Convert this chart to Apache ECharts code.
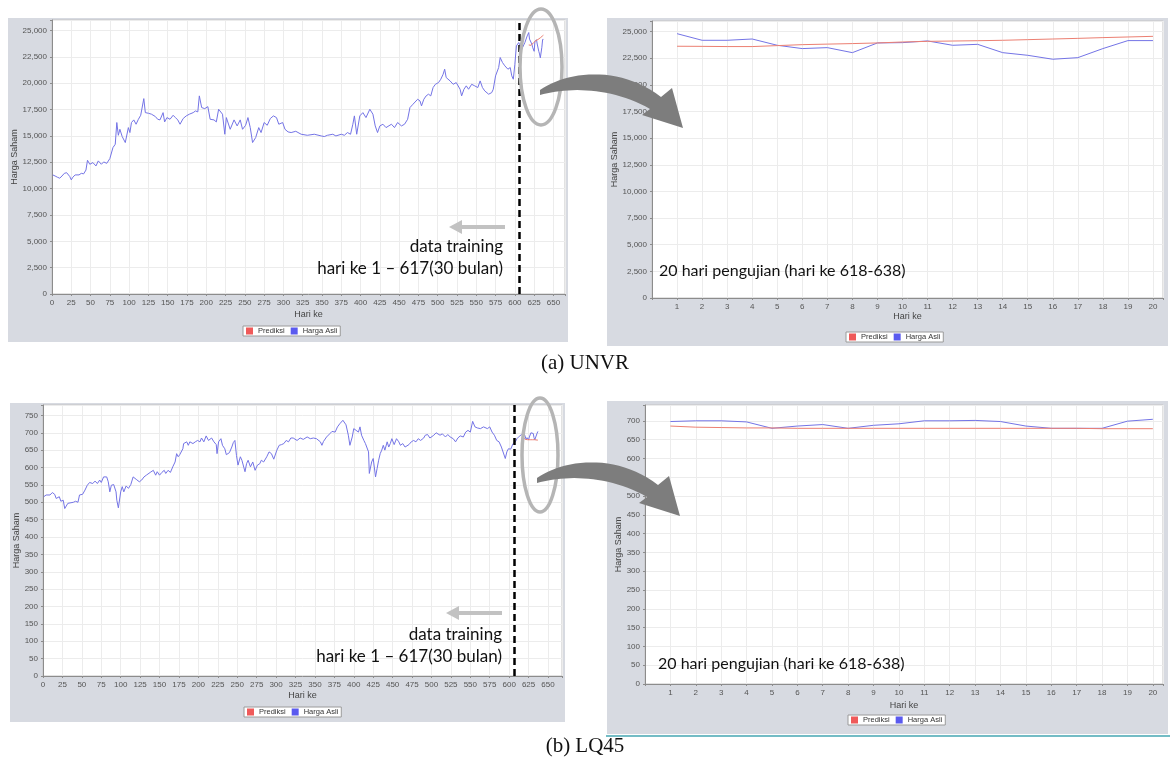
<!DOCTYPE html>
<html><head><meta charset="utf-8">
<script src="https://cdn.jsdelivr.net/npm/echarts@6/dist/echarts.min.js"></script>
<style>html,body{margin:0;padding:0;background:#fff}#c{width:1170px;height:760px}</style>
</head><body><div id="c"></div>
<script>
// ---------------- DATA ----------------
// UNVR training period: [day, price]
const unvrTraining = [
[1,11300],[4,11200],[7,11080],[10,10990],[13,11200],[16,11450],[19,11510],[21,11380],[23,11150],[25,10830],
[27,11080],[30,11300],[32,11390],[35,11300],[38,11450],[41,11400],[44,11760],[46,12690],[49,12310],[53,12470],
[57,12150],[60,12630],[64,12310],[67,12530],[71,12400],[75,12850],[79,13890],[82,14210],[84,16270],[86,15060],
[88,15630],[91,14940],[95,14370],[99,15790],[101,15320],[103,16270],[106,16520],[109,16110],[112,16580],[115,16960],
[119,18540],[121,17210],[125,17150],[129,17060],[134,16840],[137,16580],[140,16520],[144,17210],[146,16330],[149,16740],
[153,16580],[157,16960],[160,16740],[163,16520],[166,16110],[170,16650],[174,16900],[178,17060],[183,17210],[186,17370],
[189,17280],[191,18800],[194,17690],[198,17590],[202,17780],[205,16580],[210,16520],[213,16330],[216,17530],[221,17060],
[224,15160],[226,16740],[231,15630],[236,16520],[240,15950],[244,16520],[247,15630],[251,16010],[254,16740],[257,15790],
[260,14370],[264,14840],[268,15790],[271,15320],[275,16270],[279,16010],[283,16650],[287,16900],[291,16740],[294,16110],
[299,16270],[302,15630],[306,15380],[310,15320],[316,15440],[323,15160],[331,15060],[340,15160],[349,15000],[353,14940],
[357,15060],[364,15160],[368,15000],[375,15160],[379,15060],[383,15320],[387,15160],[390,16110],[392,16900],[395,15160],
[399,16900],[403,17210],[407,16740],[412,17530],[416,17060],[419,15950],[422,15320],[425,15950],[429,16110],[433,15790],
[440,16110],[444,15790],[448,16270],[453,15950],[457,16110],[461,16580],[464,17690],[468,18010],[470,17850],[474,18480],
[477,18320],[479,17850],[482,18480],[485,18800],[488,18960],[491,18800],[494,19590],[497,19900],[501,20060],[504,20380],
[507,20850],[509,21330],[511,20540],[516,20220],[520,19900],[524,20060],[529,19430],[531,18800],[534,19430],[537,19750],
[540,19430],[544,19900],[548,19750],[552,19590],[555,20220],[558,19590],[561,19270],[566,18960],[570,19110],[572,19430],
[575,20700],[579,21490],[581,22440],[584,21960],[587,21650],[591,21330],[594,21490],[596,20700],[598,20380],[600,21800],
[602,23540],[605,23860],[609,23230],[613,23860],[616,24490]
];
const unvrTestActual     = [24810,24190,24190,24310,23720,23410,23500,23030,23940,23970,24130,23720,23810,23030,22780,22410,22560,23410,24160,24160];
const unvrTestPrediction = [23630,23620,23600,23600,23690,23780,23830,23880,23940,24030,24090,24120,24150,24190,24250,24310,24370,24440,24500,24560];

// LQ45 training period: [day, price]
const lq45Training = [
[1,516],[4,521],[6,525],[9,521],[12,528],[15,523],[17,511],[21,516],[23,503],[26,506],[28,482],[30,487],[32,497],[34,501],
[39,500],[42,503],[45,500],[47,521],[51,523],[54,535],[57,549],[60,557],[64,554],[67,561],[70,554],[73,564],[75,557],[78,573],
[82,573],[84,559],[86,530],[88,549],[91,551],[94,530],[95,506],[97,484],[100,530],[102,545],[104,530],[107,547],[110,540],
[113,551],[116,573],[120,566],[124,559],[127,564],[130,573],[133,578],[138,586],[142,592],[145,578],[147,588],[150,578],
[153,586],[156,592],[158,583],[161,592],[164,586],[167,602],[170,616],[172,640],[174,631],[176,637],[180,654],[181,669],
[185,674],[187,664],[189,674],[193,669],[196,674],[199,678],[202,674],[204,685],[207,674],[210,691],[213,678],[215,674],
[217,685],[220,674],[223,666],[224,640],[226,674],[229,683],[231,664],[234,654],[236,637],[240,643],[243,659],[245,672],
[247,678],[249,635],[251,607],[254,631],[256,621],[258,626],[260,588],[262,611],[264,621],[267,602],[270,616],[273,592],
[276,607],[279,611],[281,621],[284,616],[288,631],[291,645],[294,640],[297,624],[301,650],[304,664],[307,666],[310,669],
[313,678],[316,674],[319,685],[322,685],[327,678],[331,685],[335,681],[340,688],[344,683],[348,685],[352,683],[357,674],
[359,664],[361,675],[365,688],[369,697],[372,704],[376,702],[379,717],[382,726],[386,736],[388,740],[390,723],[393,693],
[395,664],[398,688],[400,712],[403,707],[406,702],[408,717],[410,693],[413,678],[415,669],[417,664],[419,645],[420,583],
[422,578],[423,616],[425,626],[428,573],[430,597],[432,621],[434,640],[436,650],[438,664],[440,650],[443,674],[445,659],
[447,669],[449,683],[452,666],[455,683],[458,674],[460,664],[463,669],[466,659],[471,666],[474,674],[477,678],[480,674],
[483,683],[486,678],[490,685],[492,693],[495,695],[498,685],[503,693],[506,700],[511,693],[514,697],[518,688],[521,695],
[524,688],[528,683],[531,674],[534,685],[537,691],[541,688],[544,702],[547,707],[550,702],[553,733],[556,717],[559,714],
[563,712],[567,717],[572,712],[575,717],[578,702],[581,693],[584,678],[587,674],[590,659],[592,664],[595,626],[597,645],
[599,654],[602,653],[605,669],[608,674],[610,683],[613,690],[616,695]
];
const lq45TestActual     = [698,700,700,697,680,686,690,680,688,692,700,700,701,698,686,680,680,680,699,704];
const lq45TestPrediction = [686,683,682,681,681,680,680,680,680,680,680,680,680,680,680,680,680,679,679,679];

const testDayNumbers = [1,2,3,4,5,6,7,8,9,10,11,12,13,14,15,16,17,18,19,20];
const testDays = [618,619,620,621,622,623,624,625,626,627,628,629,630,631,632,633,634,635,636,637];
const trainingEndMarker = 606;

const seriesNames = ['Prediksi', 'Harga Asli'];
const captions = ['(a) UNVR', '(b) LQ45'];

// ---------------- STYLE ----------------
const FONT = '"Liberation Sans", Arial, sans-serif';
const BLUE = '#7474e6', RED = '#ec7f72';
const PANEL = '#d7dae1';

function pairs(xs, ys) { return xs.map((x, i) => [x, ys[i]]); }
function fmtNum(v) { return v.toLocaleString('en-US'); }

function xAxisCfg(gi, min, max, interval, fmt, nameGap) {
  return {
    gridIndex: gi, type: 'value', min, max, interval,
    name: 'Hari ke', nameLocation: 'middle', nameGap,
    nameTextStyle: { fontSize: 9, color: '#444', fontFamily: FONT },
    axisLine: { show: true, onZero: false, lineStyle: { color: '#8c8c8c' } },
    axisTick: { show: true, length: 2, lineStyle: { color: '#8c8c8c' } },
    axisLabel: { fontSize: 8, color: '#555', fontFamily: FONT, margin: 5, formatter: fmt },
    splitLine: { show: true, lineStyle: { color: '#ececec', width: 1 } }
  };
}
function yAxisCfg(gi, max, interval, nameGap) {
  return {
    gridIndex: gi, type: 'value', min: 0, max, interval,
    name: 'Harga Saham', nameLocation: 'middle', nameGap, nameRotate: 90,
    nameTextStyle: { fontSize: 9, color: '#444', fontFamily: FONT },
    axisLine: { show: true, lineStyle: { color: '#8c8c8c' } },
    axisTick: { show: true, length: 2, lineStyle: { color: '#8c8c8c' } },
    axisLabel: { fontSize: 8, color: '#555', fontFamily: FONT, margin: 5,
      formatter: v => (v % interval === 0 && v < max) ? fmtNum(v) : '' },
    splitLine: { show: true, lineStyle: { color: '#ececec', width: 1 } }
  };
}
function lineSeries(name, xi, yi, data, color, extra) {
  return Object.assign({
    name, type: 'line', xAxisIndex: xi, yAxisIndex: yi, data,
    showSymbol: false, symbol: 'none', lineStyle: { color, width: 1 }, itemStyle: { color },
    animation: false, z: name === 'Prediksi' ? 3 : 2
  }, extra || {});
}
function legendAt(left, top) {
  return {
    left, top, orient: 'horizontal', icon: 'rect', itemWidth: 7, itemHeight: 7, itemGap: 6,
    borderColor: '#9a9a9a', borderWidth: 1, backgroundColor: '#fff', padding: [1, 3],
    textStyle: { fontSize: 7.5, color: '#333', fontFamily: FONT },
    selectedMode: false,
    data: [{ name: seriesNames[0], itemStyle: { color: '#ef5a5a' } },
           { name: seriesNames[1], itemStyle: { color: '#5a5aef' } }]
  };
}
const gridBase = { show: true, backgroundColor: '#fff', borderColor: '#c4c4c4', borderWidth: 1, containLabel: false };

const mainXfmt = v => (v % 25 === 0 && v <= 650) ? String(v) : '';
const testXfmt = v => (Number.isInteger(v) && v >= 1 && v <= 20) ? String(v) : '';

const dividerLine = {
  silent: true, symbol: 'none', label: { show: false },
  lineStyle: { color: '#000', type: [7, 4], width: 2.5 },
  data: [{ xAxis: trainingEndMarker }]
};

// decorations helpers
function cubic(p0, p1, p2, p3, t) {
  const u = 1 - t;
  return [u*u*u*p0[0] + 3*u*u*t*p1[0] + 3*u*t*t*p2[0] + t*t*t*p3[0],
          u*u*u*p0[1] + 3*u*u*t*p1[1] + 3*u*t*t*p2[1] + t*t*t*p3[1]];
}
function curvedArrow(dx, dy) {
  const s = (p) => [p[0] + dx, p[1] + dy];
  const up = [s([540, 90]), s([566, 72]), s([618, 64]), s([661, 97])];
  const lo = [s([650, 109]), s([612, 87]), s([568, 87]), s([540, 95])];
  const pts = [];
  for (let i = 0; i <= 24; i++) pts.push(cubic(up[0], up[1], up[2], up[3], i / 24));
  pts.push(s([672, 88]), s([683, 128]), s([642, 115]));
  for (let i = 0; i <= 24; i++) pts.push(cubic(lo[0], lo[1], lo[2], lo[3], i / 24));
  return { type: 'polygon', z: 100, shape: { points: pts }, style: { fill: '#7d7d7d' } };
}
function straightArrow(x1, x2, y) {
  return [
    { type: 'line', z: 100, shape: { x1, y1: y, x2: x2 + 10, y2: y }, style: { stroke: '#c2c2c2', lineWidth: 4 } },
    { type: 'polygon', z: 100, shape: { points: [[x2, y], [x2 + 13, y - 7], [x2 + 13, y + 7]] }, style: { fill: '#c2c2c2' } }
  ];
}
function label(text, x, y, align, size, family) {
  return { type: 'text', z: 100, x, y, style: { text, fill: '#111', font: size + 'px ' + family, textAlign: align, textVerticalAlign: 'middle' } };
}
function panel(x, y, w, h) {
  return { type: 'rect', z: -10, shape: { x, y, width: w, height: h }, style: { fill: PANEL } };
}
const ANNO = 'Lato, "Open Sans", sans-serif';
const SERIF = '"Liberation Serif", "Times New Roman", serif';

const option = {
  backgroundColor: '#fff',
  animation: false,
  grid: [
    Object.assign({ left: 52, top: 20, width: 513, height: 274 }, gridBase),
    Object.assign({ left: 652, top: 21, width: 511, height: 277 }, gridBase),
    Object.assign({ left: 43, top: 405, width: 519, height: 271 }, gridBase),
    Object.assign({ left: 645, top: 405, width: 518, height: 279 }, gridBase)
  ],
  xAxis: [
    xAxisCfg(0, 0, 665, 25, mainXfmt, 16),
    xAxisCfg(1, 0, 20.4, 1, testXfmt, 14),
    xAxisCfg(2, 0, 668, 25, mainXfmt, 15),
    xAxisCfg(3, 0, 20.4, 1, testXfmt, 17)
  ],
  yAxis: [
    yAxisCfg(0, 26000, 2500, 31),
    yAxisCfg(1, 26000, 2500, 27),
    yAxisCfg(2, 780, 50, 20),
    yAxisCfg(3, 742, 50, 20)
  ],
  legend: [legendAt(243, 326), legendAt(846, 332), legendAt(244, 707), legendAt(848, 715)],
  series: [
    lineSeries(seriesNames[1], 0, 0, unvrTraining.concat(pairs(testDays, unvrTestActual)), BLUE, { markLine: dividerLine }),
    lineSeries(seriesNames[0], 0, 0, pairs(testDays, unvrTestPrediction), RED),
    lineSeries(seriesNames[1], 1, 1, pairs(testDayNumbers, unvrTestActual), BLUE),
    lineSeries(seriesNames[0], 1, 1, pairs(testDayNumbers, unvrTestPrediction), RED),
    lineSeries(seriesNames[1], 2, 2, lq45Training.concat(pairs(testDays, lq45TestActual)), BLUE, { markLine: dividerLine }),
    lineSeries(seriesNames[0], 2, 2, pairs(testDays, lq45TestPrediction), RED),
    lineSeries(seriesNames[1], 3, 3, pairs(testDayNumbers, lq45TestActual), BLUE),
    lineSeries(seriesNames[0], 3, 3, pairs(testDayNumbers, lq45TestPrediction), RED)
  ],
  graphic: { elements: [
    panel(8, 18, 560, 324),
    panel(607, 18, 561, 328),
    panel(10, 403, 555, 319),
    panel(607, 401, 561, 333),
    ...straightArrow(505, 449, 227),
    label('data training', 503, 247, 'right', 17, ANNO),
    label('hari ke 1 \u2013 617(30 bulan)', 503, 269, 'right', 17, ANNO),
    ...straightArrow(502, 446, 613),
    label('data training', 502, 635, 'right', 17, ANNO),
    label('hari ke 1 \u2013 617(30 bulan)', 502, 657, 'right', 17, ANNO),
    label('20 hari pengujian (hari ke 618-638)', 659, 271, 'left', 16, ANNO),
    label('20 hari pengujian (hari ke 618-638)', 658, 664, 'left', 16, ANNO),
    { type: 'ellipse', z: 100, shape: { cx: 541, cy: 67, rx: 21, ry: 58 }, style: { fill: 'none', stroke: '#b5b5b5', lineWidth: 3.5 } },
    { type: 'ellipse', z: 100, shape: { cx: 540, cy: 455, rx: 18, ry: 57 }, style: { fill: 'none', stroke: '#b5b5b5', lineWidth: 3.5 } },
    curvedArrow(0, 0),
    curvedArrow(-3, 388),
    label(captions[0], 585, 363, 'center', 21, SERIF),
    label(captions[1], 585, 746, 'center', 21, SERIF),
    { type: 'line', z: 100, shape: { x1: 606, y1: 736, x2: 1170, y2: 736 }, style: { stroke: '#45a6b2', lineWidth: 1.5 } }
  ] }
};
const chart = echarts.init(document.getElementById('c'), null, { renderer: 'canvas' });
chart.setOption(option);
</script>
</body></html>
